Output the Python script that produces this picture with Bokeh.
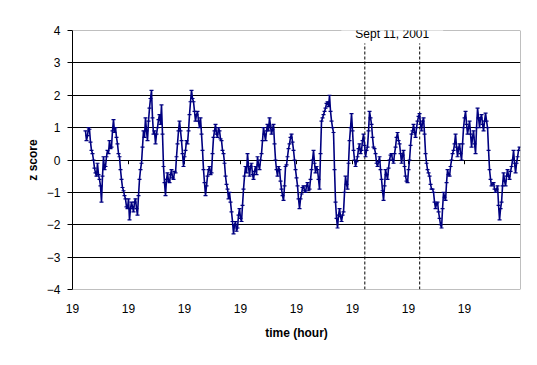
from bokeh.plotting import figure
from bokeh.models import FixedTicker, Label, Range1d, Span
from bokeh.embed import file_html
from bokeh.resources import INLINE

# z score series: samples on even steps ...
z_values = [
    0.9, 0.75, 0.95, 0.3, 0.0, -0.4, -0.1, -0.6, -1.3, 0.1,
    -0.2, 0.3, 0.6, 0.4, 1.25, 1.0, 0.5, 0.1, -0.6, -0.95,
    -1.2, -1.5, -1.85, -1.3, -1.6, -1.2, -1.7, -0.6, -0.1, 0.9,
    1.3, 0.6, 1.6, 2.15, 0.8, 0.5, 1.0, 1.4, 1.7, -0.2,
    -1.1, -0.4, -0.7, -0.3, -0.6, -0.4, 0.5, 1.2, 0.6, -0.2,
    0.3, 0.5, 1.4, 2.15, 1.8, 1.2, 1.5, 1.0, 0.8, -0.3,
    -1.1, -0.5, -0.2, -0.4, 0.7, 1.1, 0.7, 0.9, 0.6, 0.2,
    -0.5, -0.9, -1.0, -1.6, -2.28, -1.9, -2.1, -1.5, -1.9, -0.9,
    -0.2, 0.2, -0.5, -0.1, -0.6, -0.2, 0.1, -0.3, 0.2, 1.0,
    0.6, 1.1, 1.3, 0.8, 1.1, 0.0, -0.5, -0.3, -0.9, -1.25,
    -0.2, 0.1, 0.5, 0.8, 0.3, -0.3, -0.8, -1.5, -1.05, -0.8,
    -1.0, -0.7, -0.9, -0.3, 0.3, -0.4, -0.3, -0.9, 1.2, 1.4,
    1.6, 1.8, 2.0, 1.2, 0.85, -1.3, -2.1, -1.5, -1.9, -1.6,
    -0.5, -0.9, 0.6, 1.43, 0.3, -0.2, 0.1, 0.5, 0.3, 0.8,
    0.1, 0.4, 1.5, 1.1, 0.4, 0.2, -0.2, 0.1, -0.6, -1.25,
    -0.3, -0.6, 0.0, 0.2, -0.1, 0.4, 0.85, 0.5, -0.1, 0.3,
    -0.5, -0.7, 0.0, 0.8, 1.1, 0.7, 1.2, 1.43, 0.9, 1.3,
    0.2, -0.3, -0.5, -0.9, -1.0, -1.5, -1.3, -1.8, -2.1, -1.0,
    -1.25, -0.3, -0.5, 0.0, 0.3, 0.8, 0.1, 0.5, 0.0, 1.0,
    1.5, 0.8, 1.2, 0.4, 0.9, 0.2, 1.6, 1.0, 1.4, 0.9,
    1.45, 1.0, -0.3, -0.8, -0.7, -1.0, -0.8, -1.85, -1.3, -0.4,
    -0.8, -0.3, -0.6, -0.2, 0.3, -0.4, 0.1, 0.4,
]
# ... and the samples that fall between them
z_between = [
    0.6, 1.0, 0.55, 0.2, -0.25, -0.5, -0.45, -0.8, -0.5, -0.3,
    0.1, 0.2, 0.35, 0.9, 0.85, 0.7, 0.2, -0.3, -0.85, -1.1,
    -1.45, -1.2, -1.5, -1.45, -1.3, -1.5, -1.1, -0.3, 0.4, 0.7,
    0.9, 1.2, 1.9, 1.3, 0.9, 0.8, 1.25, 1.1, 0.8, -0.7,
    -0.6, -0.65, -0.45, -0.55, -0.35, 0.1, 0.9, 0.9, 0.2, 0.1,
    0.6, 0.9, 1.8, 1.9, 1.5, 1.4, 1.2, 1.3, 0.3, -0.7,
    -0.8, -0.3, -0.45, 0.2, 0.9, 0.8, 1.0, 0.65, 0.3, -0.1,
    -0.75, -1.2, -1.3, -1.9, -2.0, -2.2, -1.7, -1.8, -1.4, -0.5,
    -0.4, -0.2, -0.2, -0.45, -0.35, -0.45, -0.15, 0.0, 0.6, 0.8,
    0.9, 0.9, 1.05, 0.95, 0.5, -0.3, -0.2, -0.65, -1.1, -0.8,
    -0.15, 0.35, 0.7, 0.55, 0.0, -0.55, -1.2, -1.2, -0.85, -0.95,
    -0.8, -0.95, -0.6, 0.0, -0.1, -0.2, -0.6, 0.2, 1.3, 1.5,
    1.75, 1.65, 1.5, 1.0, -0.3, -1.8, -1.7, -1.75, -1.7, -1.0,
    -0.75, -0.1, 1.0, 0.9, 0.0, -0.05, 0.35, 0.2, 0.6, 0.45,
    0.3, 0.9, 1.3, 0.7, 0.35, -0.1, -0.05, -0.3, -0.95, -0.8,
    -0.45, -0.25, 0.15, 0.0, 0.2, 0.7, 0.6, 0.2, 0.15, -0.2,
    -0.65, -0.3, 0.45, 0.9, 0.85, 1.0, 1.35, 1.1, 1.2, 0.8,
    -0.1, -0.4, -0.75, -0.9, -1.3, -1.35, -1.6, -2.0, -1.5, -1.15,
    -0.7, -0.45, -0.2, 0.2, 0.5, 0.4, 0.35, 0.2, 0.5, 1.3,
    1.1, 1.0, 0.8, 0.7, 0.5, 1.0, 1.3, 1.3, 1.1, 1.2,
    1.2, 0.3, -0.6, -0.75, -0.9, -0.9, -1.4, -1.5, -0.8, -0.65,
    -0.5, -0.5, -0.35, 0.0, -0.1, -0.1, 0.3,
]
t_start = 0.232
t_step = 0.01786

z_series = []
for i, v in enumerate(z_values):
    z_series.append(v)
    if i < len(z_between):
        z_series.append(z_between[i])
hours = [t_start + i * t_step for i in range(len(z_series))]

x_ticks = [0, 1, 2, 3, 4, 5, 6, 7]
x_tick_labels = ["19", "19", "19", "19", "19", "19", "19", "19"]
y_ticks = [-4, -3, -2, -1, 0, 1, 2, 3, 4]
grid_levels = [-3, -2, -1, 0, 1, 2, 3]
x_min, x_max = 0, 8
y_min, y_max = -4, 4
event_times = [5.22, 6.20]
event_text = "Sept 11, 2001"

FONT = "Liberation Sans"
BORDER = "#808080"

p = figure(width=529, height=357, output_backend="svg", toolbar_location=None,
           x_range=Range1d(x_min, x_max), y_range=Range1d(y_min, y_max),
           min_border_left=72, min_border_right=9, min_border_top=30,
           min_border_bottom=68)
p.background_fill_color = "white"
p.border_fill_color = "white"
p.outline_line_color = None

# grid
p.xgrid.visible = False
p.ygrid.ticker = FixedTicker(ticks=grid_levels)
p.ygrid.grid_line_color = "black"
p.ygrid.grid_line_width = 1

# y axis
p.yaxis.ticker = FixedTicker(ticks=y_ticks)
p.yaxis.axis_line_color = "black"
p.yaxis.major_tick_line_color = "black"
p.yaxis.major_tick_out = 5
p.yaxis.major_tick_in = 0
p.yaxis.minor_tick_line_color = None
p.yaxis.major_label_standoff = 7
p.yaxis.major_label_text_font = FONT
p.yaxis.major_label_text_font_size = "12px"
p.yaxis.major_label_text_color = "black"
p.yaxis.axis_label = "z score"
p.yaxis.axis_label_text_font = FONT
p.yaxis.axis_label_text_font_size = "12px"
p.yaxis.axis_label_text_font_style = "bold"
p.yaxis.axis_label_text_color = "black"
p.yaxis.axis_label_standoff = 4

# x axis
p.xaxis.ticker = FixedTicker(ticks=x_ticks)
p.xaxis.major_label_overrides = {t: lab for t, lab in zip(x_ticks, x_tick_labels)}
p.xaxis.axis_line_color = None
p.xaxis.major_tick_line_color = None
p.xaxis.minor_tick_line_color = None
p.xaxis.major_label_standoff = 8
p.xaxis.major_label_text_font = FONT
p.xaxis.major_label_text_font_size = "12px"
p.xaxis.major_label_text_color = "black"
p.xaxis.axis_label = "time (hour)"
p.xaxis.axis_label_text_font = FONT
p.xaxis.axis_label_text_font_size = "12px"
p.xaxis.axis_label_text_font_style = "bold"
p.xaxis.axis_label_text_color = "black"
p.xaxis.axis_label_standoff = 10

# plot-area border (gray), top one interrupted by the event label
p.add_layout(Span(location=y_max, dimension="width", line_color=BORDER, line_width=1))
p.add_layout(Span(location=y_min, dimension="width", line_color=BORDER, line_width=1))
p.add_layout(Span(location=x_max, dimension="height", line_color=BORDER, line_width=1))

# category tick marks along the zero line
p.segment(x0=x_ticks[1:], x1=x_ticks[1:], y0=[0] * 7, y1=[-0.13] * 7,
          line_color="black", line_width=1)

# event markers
p.segment(x0=event_times, x1=event_times, y0=[y_min, y_min], y1=[3.6, 3.6],
          line_color="black", line_width=1, line_dash="3 2")

# series
p.line(hours, z_series, line_color="#000080", line_width=1.6)
p.scatter(hours, z_series, marker="dash", size=4, line_color="#000080", line_width=1.2)

lab = Label(x=sum(event_times) / 2, y=y_max, text=event_text, text_align="center",
            text_baseline="middle", y_offset=-3, text_font=FONT,
            text_font_size="12px", text_color="black",
            background_fill_color="white",
            padding=dict(left=14, right=14, top=2, bottom=2))
p.add_layout(lab)

open("out.html", "w").write(file_html(p, INLINE))
